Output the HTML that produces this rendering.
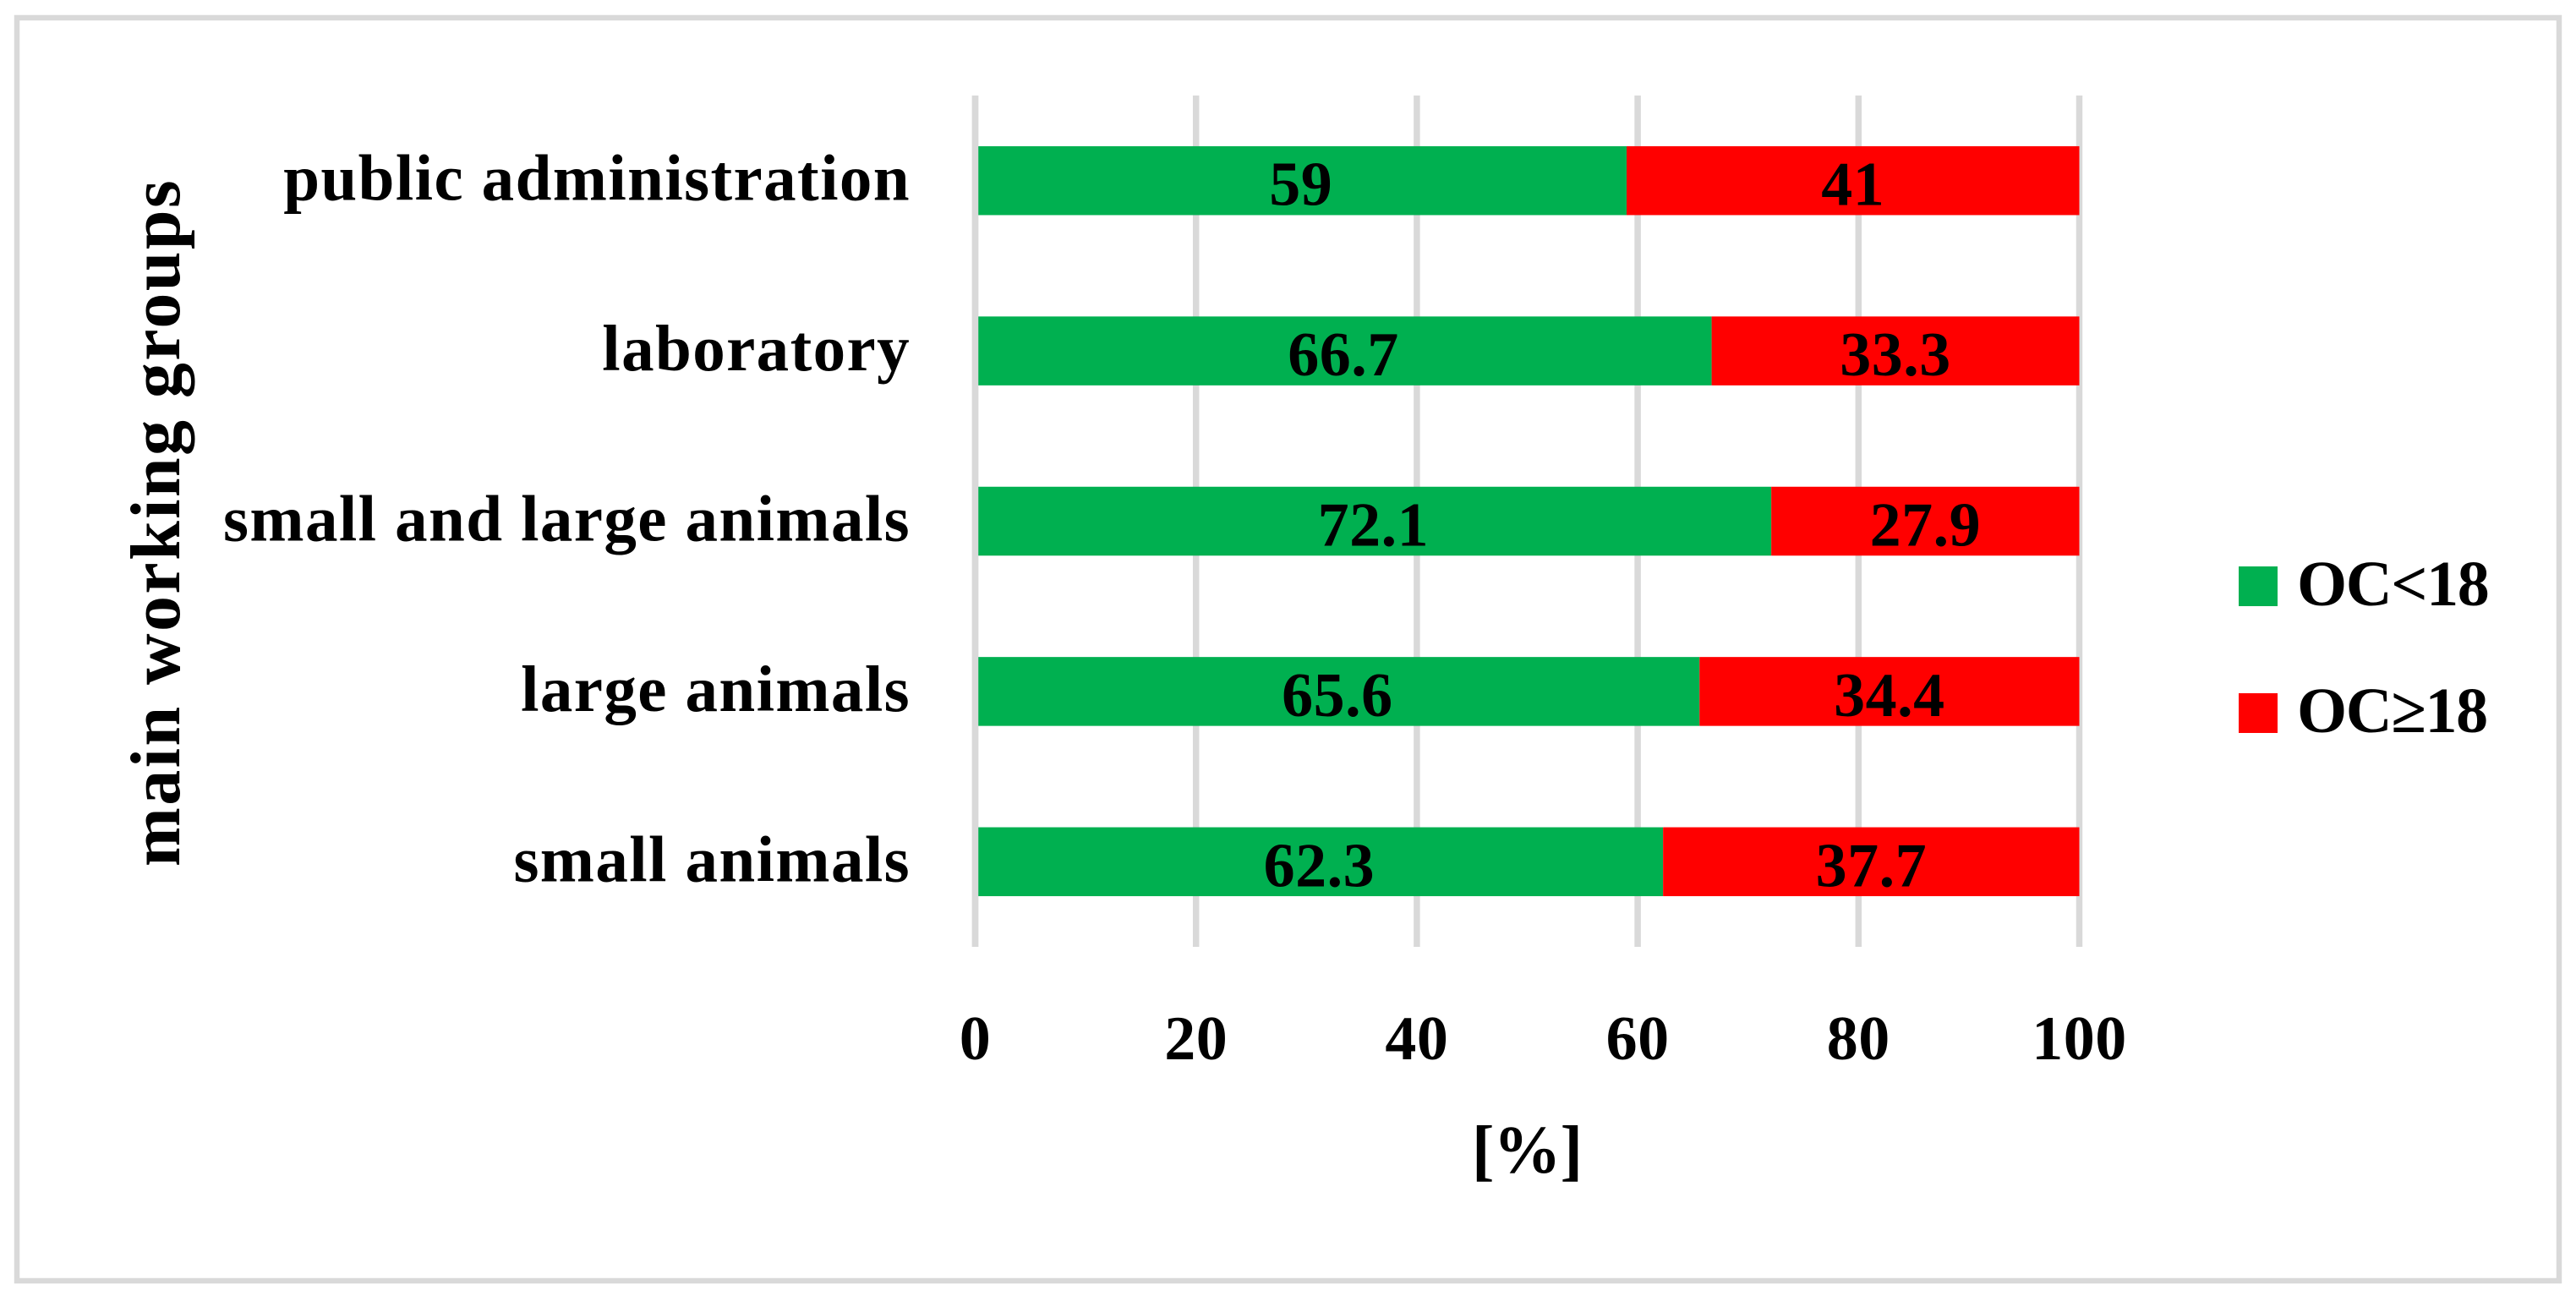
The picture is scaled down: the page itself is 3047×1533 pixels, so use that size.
<!DOCTYPE html>
<html lang="en">
<head>
<meta charset="utf-8">
<title>OC score by main working group</title>
<style>
html,body{margin:0;padding:0;background:#fff;}
svg{display:block;}
text{font-family:"Liberation Serif",serif;font-weight:bold;fill:#000;}
.cat{font-size:77px;letter-spacing:1.4px;text-anchor:end;}
.val{font-size:74px;letter-spacing:.5px;text-anchor:middle;}
.tick{font-size:74px;letter-spacing:.5px;text-anchor:middle;}
.leg{font-size:76px;letter-spacing:-1.4px;}
.ttl{font-size:84px;letter-spacing:2.4px;text-anchor:middle;}
</style>
</head>
<body>
<svg id="chart" xmlns="http://www.w3.org/2000/svg" width="3047" height="1533" viewBox="0 0 3047 1533">
  <rect x="0" y="0" width="3047" height="1533" fill="#fff"/>
  <rect x="20" y="21" width="3007" height="1494" fill="none" stroke="#d9d9d9" stroke-width="6.5"/>
  <g id="grid"></g>
  <g id="bars"></g>
  <g id="axis0"></g>
  <g id="values"></g>
  <g id="cats"></g>
  <g id="ticks"></g>
  <text class="ttl" transform="translate(212,618) rotate(-90)">main working groups</text>
  <text class="ttl" x="1806" y="1387" style="font-size:80px;letter-spacing:-1px">[%]</text>
  <g>
    <rect x="2648" y="670" width="46" height="47" fill="#00b050"/>
    <text class="leg" x="2717" y="716">OC&lt;18</text>
    <rect x="2648" y="820" width="46" height="47" fill="#ff0000"/>
    <text class="leg" x="2717" y="866">OC≥18</text>
  </g>
</svg>
<script>
const categories = ["public administration", "laboratory", "small and large animals", "large animals", "small animals"];
const seriesLow = [59, 66.7, 72.1, 65.6, 62.3];
const seriesHigh = [41, 33.3, 27.9, 34.4, 37.7];
const tickValues = [0, 20, 40, 60, 80, 100];

const NS = "http://www.w3.org/2000/svg";
const plotLeft = 1153.5, plotRight = 2459.5, plotTop = 113, plotBottom = 1120, xMax = 100;
const barHeight = 81.5;
const GRID = "#d9d9d9", GREEN = "#00b050", RED = "#ff0000";

function xScale(v) { return plotLeft + (v / xMax) * (plotRight - plotLeft); }
function yCenter(i) { return plotTop + (i + 0.5) * (plotBottom - plotTop) / categories.length; }
function make(tag, parentId, attrs, txt) {
  const el = document.createElementNS(NS, tag);
  for (const k in attrs) el.setAttribute(k, attrs[k]);
  if (txt !== undefined) el.textContent = txt;
  document.getElementById(parentId).appendChild(el);
  return el;
}

tickValues.forEach(function (t) {
  const line = make("rect", "grid", { x: xScale(t) - 3.75, y: plotTop, width: 7.5, height: plotBottom - plotTop, fill: GRID });
  
  
  const lab = make("text", "ticks", { class: "tick", x: xScale(t), y: 1253 }, String(t));
  
  
});

categories.forEach(function (c, i) {
  const cy = yCenter(i);
  const low = seriesLow[i], high = seriesHigh[i];
  const r1 = make("rect", "bars", { x: xScale(0), y: cy - barHeight / 2, width: xScale(low) - xScale(0), height: barHeight, fill: GREEN });
  
  
  const r2 = make("rect", "bars", { x: xScale(low), y: cy - barHeight / 2, width: xScale(low + high) - xScale(low), height: barHeight, fill: RED });
  
  
  const v1 = make("text", "values", { class: "val", x: xScale(low / 2), y: cy + 29 }, String(low));
  
  
  const v2 = make("text", "values", { class: "val", x: xScale(low + high / 2), y: cy + 29 }, String(high));
  
  
  const cl = make("text", "cats", { class: "cat", x: 1077, y: cy + 23 }, c);
  
  
});

const zero = make("rect", "axis0", { x: xScale(0) - 3.75, y: plotTop, width: 7.5, height: plotBottom - plotTop, fill: GRID });


</script>
</body>
</html>
